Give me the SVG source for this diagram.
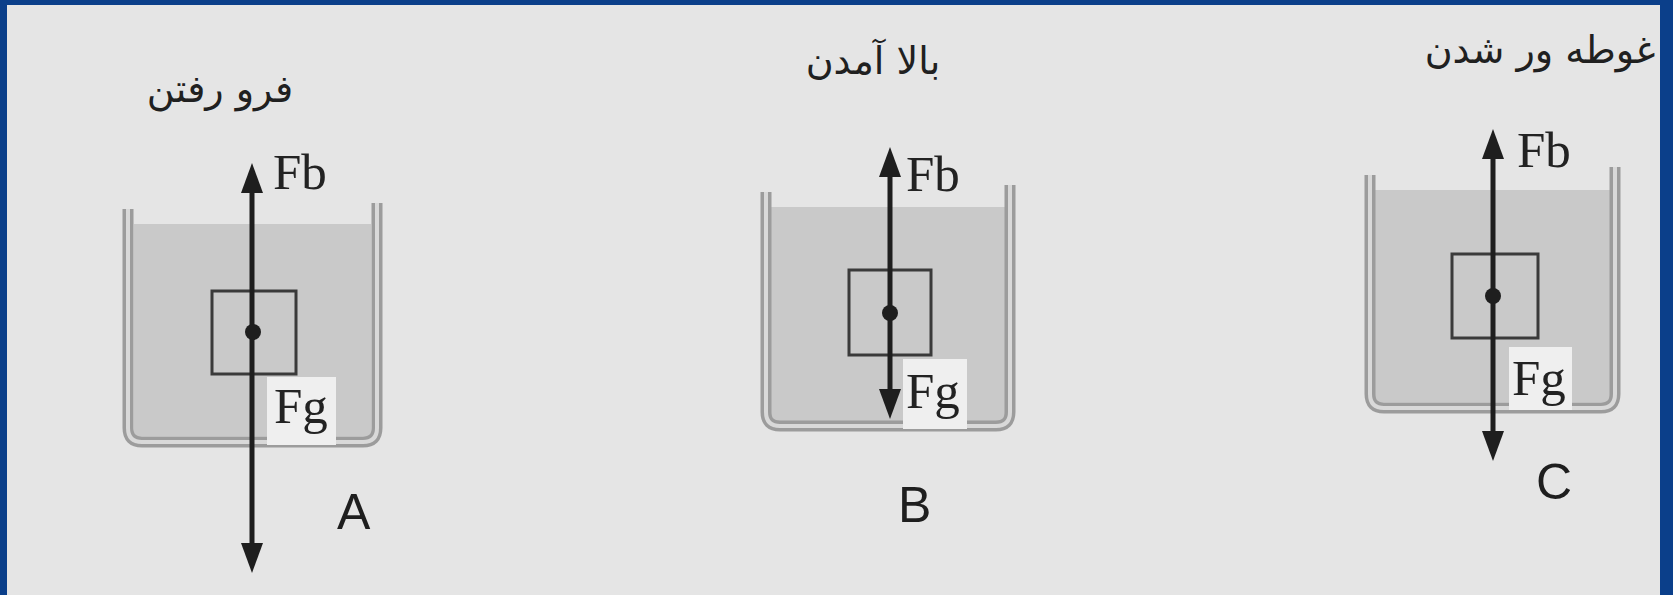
<svg xmlns="http://www.w3.org/2000/svg" width="1673" height="595" viewBox="0 0 1673 595">
<style>
.bg{fill:#e5e5e5}
.frame{fill:#0b3f8a}
.liquid{fill:#c9c9c9}
.wallo{fill:none;stroke:#9c9c9c;stroke-width:11}
.walli{fill:none;stroke:#d9d9d9;stroke-width:4}
.box{fill:none;stroke:#3a3a3a;stroke-width:3}
.dot{fill:#1e1e1e}
.lblbg{fill:#efefef}
.force{font-family:"Liberation Serif",serif;font-size:51px;fill:#222}
.letter{font-family:"Liberation Sans",Arial,sans-serif;font-size:50px;fill:#1e1e1e}
.title{font-family:"DejaVu Sans","Noto Sans",sans-serif;font-size:38px;fill:#202020;text-anchor:middle}
.arrow{stroke:#1e1e1e;stroke-width:5;fill:none;marker-start:url(#head);marker-end:url(#head)}
</style>
<defs>
<marker id="head" markerUnits="userSpaceOnUse" markerWidth="30" markerHeight="22" refX="15" refY="11" orient="auto-start-reverse" viewBox="0 0 30 22">
<path d="M0,0 L30,11 L0,22 Z" fill="#1e1e1e"/>
</marker>
</defs>
<rect class="bg" x="0" y="0" width="1673" height="595"/>

<g id="panelA">
<text class="title" x="220" y="102">فرو رفتن</text>
<rect class="liquid" x="134" y="224" width="237" height="212"/>
<path class="wallo" d="M128,209 V428 Q128,442 142,442 H363 Q377,442 377,428 V203"/>
<path class="walli" d="M128,209 V428 Q128,442 142,442 H363 Q377,442 377,428 V203"/>
<rect class="box" x="212" y="291" width="84" height="83"/>
<rect class="lblbg" x="267" y="377" width="69" height="68"/>
<text class="force" x="273" y="189">Fb</text>
<text class="force" x="274" y="423">Fg</text>
<text class="letter" x="337" y="529">A</text>
</g>

<g id="panelB">
<text class="title" x="873" y="74">بالا آمدن</text>
<rect class="liquid" x="771" y="207" width="235" height="214"/>
<path class="wallo" d="M766,192 V412 Q766,426 780,426 H996 Q1010,426 1010,412 V185"/>
<path class="walli" d="M766,192 V412 Q766,426 780,426 H996 Q1010,426 1010,412 V185"/>
<rect class="box" x="849" y="270" width="82" height="85"/>
<rect class="lblbg" x="903" y="359" width="64" height="70"/>
<text class="force" x="906" y="191">Fb</text>
<text class="force" x="906" y="408">Fg</text>
<text class="letter" x="898" y="522">B</text>
</g>

<g id="panelC">
<text class="title" x="1540" y="63">غوطه ور شدن</text>
<rect class="liquid" x="1375" y="190" width="236" height="212"/>
<path class="wallo" d="M1370,175 V394 Q1370,408 1384,408 H1601 Q1615,408 1615,394 V167"/>
<path class="walli" d="M1370,175 V394 Q1370,408 1384,408 H1601 Q1615,408 1615,394 V167"/>
<rect class="box" x="1452" y="254" width="86" height="84"/>
<rect class="lblbg" x="1509" y="347" width="63" height="63"/>
<text class="force" x="1517" y="167">Fb</text>
<text class="force" x="1512" y="395">Fg</text>
<text class="letter" x="1536" y="499">C</text>
</g>

<g id="connectors">
<line class="arrow" x1="252" y1="178" x2="252" y2="558"/>
<line class="arrow" x1="890" y1="162" x2="890" y2="404"/>
<line class="arrow" x1="1493" y1="144" x2="1493" y2="446"/>
</g>

<g id="dots">
<circle class="dot" cx="253" cy="332" r="8"/>
<circle class="dot" cx="890" cy="313" r="8"/>
<circle class="dot" cx="1493" cy="296" r="8"/>
</g>

<g id="frame">
<rect class="frame" x="0" y="0" width="7" height="595"/>
<rect class="frame" x="0" y="0" width="1673" height="5"/>
<rect class="frame" x="1660" y="0" width="13" height="595"/>
</g>
</svg>
